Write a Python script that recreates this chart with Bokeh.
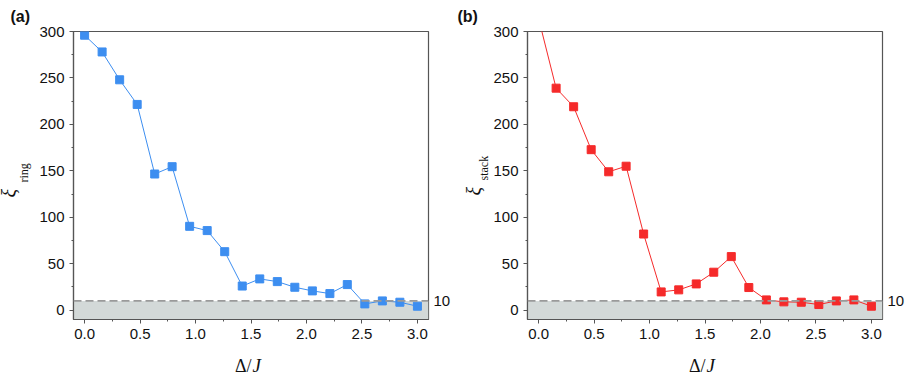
from bokeh.plotting import figure
from bokeh.models import (Range1d, SingleIntervalTicker, FixedTicker, LinearAxis,
                          BoxAnnotation, Span, PrintfTickFormatter, Label, Title)
from bokeh.layouts import row, column
from bokeh.embed import file_html
from bokeh.resources import INLINE

# ---- data ----
delta_J = [0.0, 0.158, 0.316, 0.474, 0.632, 0.789, 0.947, 1.105, 1.263, 1.421,
           1.579, 1.737, 1.895, 2.053, 2.211, 2.368, 2.526, 2.684, 2.842, 3.0]
xi_ring = [296, 278, 248, 221.5, 146.6, 154.5, 90.3, 85.7, 63, 26,
           33.7, 30.8, 24.7, 20.8, 17.9, 27.6, 6.8, 10, 8.6, 4.3]
xi_stack = [314, 239, 219, 172.8, 149, 155, 82, 19.7, 21.9, 28.3,
            40.9, 57.7, 24.4, 11.1, 9, 8.6, 6.1, 10, 11.1, 4.3]
threshold = 10
y_ticks_interval = 50
x_ticks_interval = 0.5
panel_tags = ["(a)", "(b)"]
sub_labels = ["ring", "stack"]
x_label_parts = ["Δ/", "J"]

AX = "#555555"
TXT = "#111111"
TICK_FONT = "Liberation Sans"
SERIF = "Liberation Serif"
TOP_H = 345
BOT_H = 28


def make_title(text, offset, size, style, standoff):
    kw = dict(text=text, align="left", offset=offset, text_font=SERIF,
              text_font_size=size, text_font_style=style, text_color=TXT,
              vertical_align="bottom")
    try:
        return Title(standoff=standoff, **kw)
    except Exception:
        return Title(standoff=0, **kw)


def make_panel(y, color, width, left, right, tag, tag_off, sub, xi_off, sub_off,
               xi_stand, sub_stand):
    p = figure(width=width, height=TOP_H, x_range=Range1d(-0.1, 3.1),
               y_range=Range1d(-10, 300), output_backend="svg",
               toolbar_location=None, min_border_left=left,
               min_border_right=right, min_border_top=31,
               min_border_bottom=TOP_H - 319)
    p.xgrid.visible = False
    p.ygrid.visible = False
    p.outline_line_color = AX
    p.outline_line_width = 1.2
    p.background_fill_color = "white"

    p.xaxis.ticker = SingleIntervalTicker(interval=x_ticks_interval, num_minor_ticks=2)
    p.xaxis.formatter = PrintfTickFormatter(format="%.1f")
    p.yaxis.ticker = SingleIntervalTicker(interval=y_ticks_interval, num_minor_ticks=2)
    for ax in (p.xaxis, p.yaxis):
        ax.axis_line_color = AX
        ax.axis_line_width = 1.2
        ax.major_tick_line_color = AX
        ax.minor_tick_line_color = AX
        ax.major_tick_in = 0
        ax.major_tick_out = 4
        ax.minor_tick_in = 0
        ax.minor_tick_out = 2
        ax.major_label_text_font = TICK_FONT
        ax.major_label_text_font_size = "15px"
        ax.major_label_text_color = TXT
        ax.major_label_standoff = 5
    p.xaxis.major_label_standoff = 5

    right_ax = LinearAxis(ticker=FixedTicker(ticks=[threshold]),
                          axis_line_color=None, major_tick_line_color=None,
                          minor_tick_line_color=None, major_tick_in=0,
                          major_tick_out=0, major_label_standoff=5,
                          major_label_text_font=TICK_FONT,
                          major_label_text_font_size="15px",
                          major_label_text_color=TXT)
    p.add_layout(right_ax, "right")

    # y label: subscript (next to the axis), then xi further out
    p.add_layout(make_title(sub, sub_off, "12px", "normal", sub_stand), "left")
    p.add_layout(make_title("ξ", xi_off, "20px", "italic", xi_stand), "left")

    # panel tag
    p.title.text = tag
    p.title.align = "left"
    p.title.offset = tag_off
    p.title.text_font = TICK_FONT
    p.title.text_font_style = "bold"
    p.title.text_font_size = "16px"
    p.title.text_color = TXT
    p.title.standoff = 10
    p.title.vertical_align = "top"

    p.add_layout(BoxAnnotation(top=threshold, fill_color="#d3d9d8", fill_alpha=1.0,
                               line_color=None, level="underlay"))
    p.add_layout(Span(location=threshold, dimension="width", line_color="#9a9a9a",
                      line_width=1.6, line_dash="8 4"))

    p.line(delta_J, y, line_color=color, line_width=1)
    p.scatter(delta_J, y, marker="square", size=8, fill_color=color, line_color=color)
    return p


def blank(width, height):
    p = figure(width=width, height=height, x_range=Range1d(0, width),
               y_range=Range1d(0, height), output_backend="svg", title=None,
               toolbar_location=None, min_border=0, x_axis_location=None,
               y_axis_location=None, outline_line_color=None)
    p.grid.visible = False
    return p


pa = make_panel(xi_ring, "#3d8ef0", 453, 73, 25, panel_tags[0], -63,
                sub_labels[0], 122, 137, -22, 12)
pb = make_panel(xi_stack, "#f52a2a", 461, 74, 32, panel_tags[1], -70,
                sub_labels[1], 124, 139, -20, 0)

xl = blank(914, BOT_H)
for cx in (251, 705):
    xl.add_layout(Label(x=cx, y=8, text=x_label_parts[0], text_font=SERIF,
                        text_font_size="18px", text_color=TXT, text_align="right",
                        text_baseline="alphabetic"))
    xl.add_layout(Label(x=cx + 1, y=8, text=x_label_parts[1], text_font=SERIF,
                        text_font_style="italic", text_font_size="19px",
                        text_color=TXT, text_align="left",
                        text_baseline="alphabetic"))

layout = column(row(pa, pb), xl)
open("out.html", "w").write(file_html(layout, INLINE))
